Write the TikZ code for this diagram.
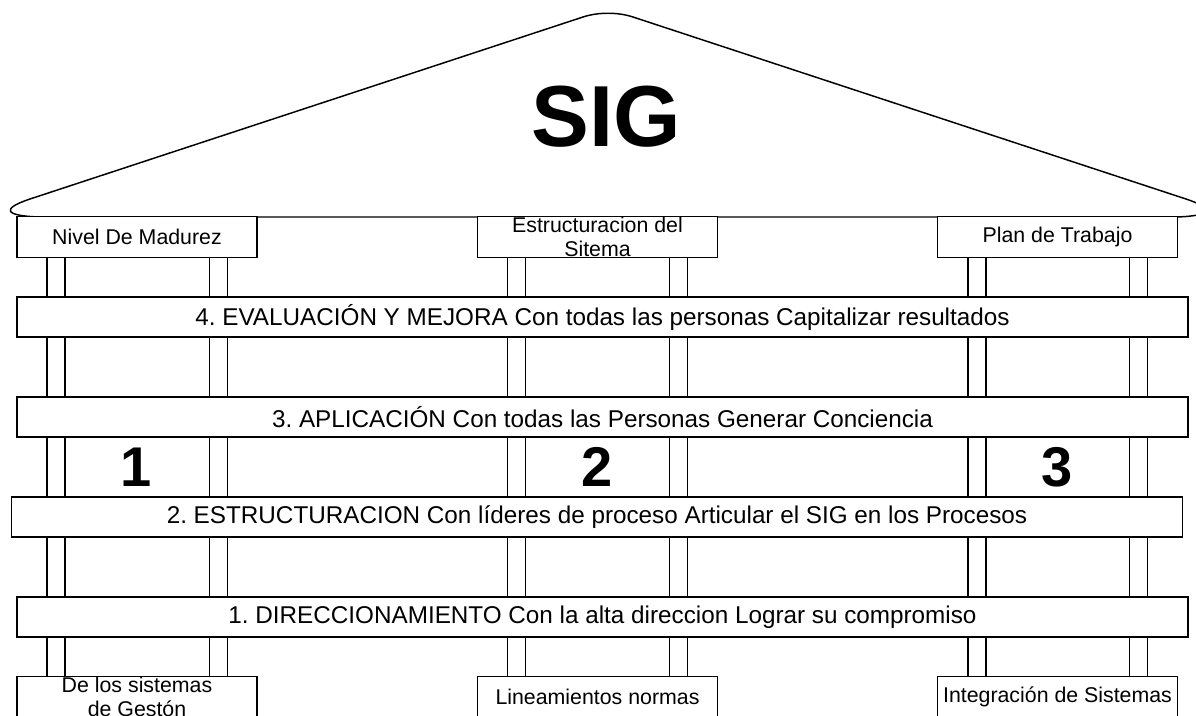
\documentclass[tikz,border=0pt]{standalone}
\usepackage{fontspec}
\setmainfont{Liberation Sans}
\usepackage{tikz}
\usetikzlibrary{%
  positioning%
}
\frenchspacing

\begin{document}
\begin{tikzpicture}[x=0.75pt,y=-0.75pt,line width=1.1pt,
    box/.style={draw,fill=white,minimum width=180pt,minimum height=30.5pt,inner sep=0pt,
      font=\fontsize{16}{18}\selectfont},
    bar/.style={draw,fill=white,minimum width=878pt,minimum height=30pt,inner sep=0pt,
      font=\fontsize{18.2}{20}\selectfont},
    boxtext/.style={align=center,inner sep=0pt,font=\fontsize{16}{18}\selectfont},
    post/.style={draw,fill=white,minimum width=13.75pt,minimum height=315pt,inner sep=0pt},
    num/.style={font=\fontsize{42}{44}\selectfont\bfseries}]
      \useasboundingbox (0,0) rectangle (1196,715);
      \clip (0,0) rectangle (1196,715);
      % roof
      \draw (40,217) .. controls (5,216) and (0,209) .. (30,199) -- (583,17)
        .. controls (598,12) and (618,12) .. (633,17) -- (1186,199)
        .. controls (1216,209) and (1211,216) .. (1176,217) -- cycle;
      \node [font=\fontsize{65}{68}\selectfont\bfseries] (sig) at (606,117) {SIG};
      % columns
      \foreach \x/\n in {56/a1,218.5/a2,516.5/b1,678.5/b2,977/c1,1138.5/c2}
        \node [post] (p\n) at (\x,467) {};
      % top boxes
      \node [box] (nivel) at (137,237) {Nivel De Madurez};
      \node [box] (estruc) at (597.5,237) {};
      \node [boxtext] at (estruc.center) {Estructuracion del\\Sitema};
      \node [box] (plan) at (1057.5,237) {Plan de Trabajo};
      % beams
      \node [bar] (evalua) at (602.5,317) {4. EVALUACIÓN Y MEJORA Con todas las personas Capitalizar resultados};
      \node [bar] (aplica) at (602.5,417) {3. APLICACIÓN Con todas las Personas Generar Conciencia};
      \node [bar] (estructura) at (597,517) {2. ESTRUCTURACION Con líderes de proceso Articular el SIG en los Procesos};
      \node [bar] (direcc) at (602.5,617) {1. DIRECCIONAMIENTO Con la alta direccion Lograr su compromiso};
      % numbers
      \node [num] (uno) at (136,467) {1};
      \node [num] (dos) at (597,467) {2};
      \node [num] (tres) at (1057,467) {3};
      % bottom boxes
      \node [box] (gestion) at (137,697) {};
      \node [boxtext] at (gestion.center) {De los sistemas\\de Gestón};
      \node [box] (lineam) at (597.5,697) {Lineamientos normas};
      \node [box] (integ) at (1057.5,697) {Integración de Sistemas};
    \end{tikzpicture}
\end{document}
